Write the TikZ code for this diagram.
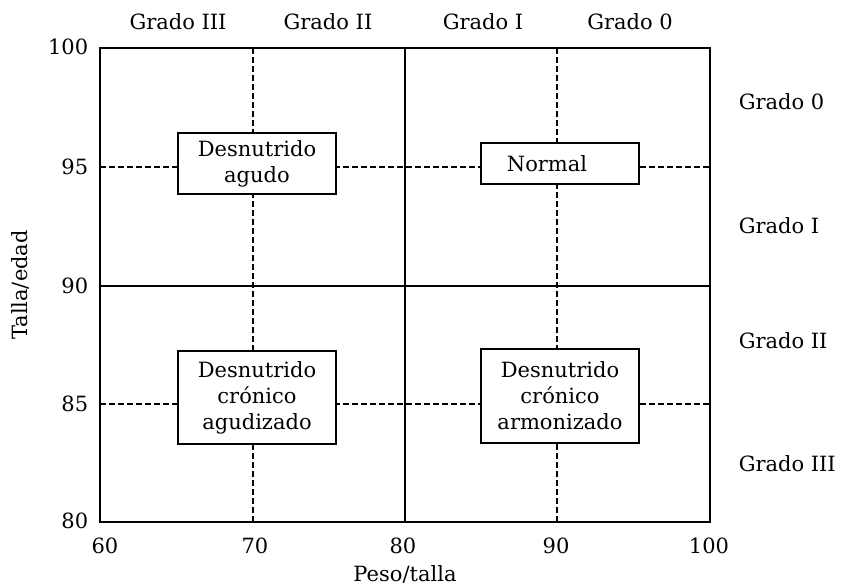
\documentclass[tikz,border=0pt]{standalone}
\usepackage{fontspec}
\setmainfont{DejaVu Serif}
\begin{document}
\begin{tikzpicture}[x=1pt,y=-1pt,
  font=\fontsize{21}{26}\selectfont,
  line width=1.6pt,
  gridline/.style={dash pattern=on 6pt off 3pt, line width=1.4pt},
  box/.style={draw, fill=white, align=center, inner sep=0pt, line width=1.6pt, minimum width=158pt},
  lbl/.style={inner sep=0pt}]
\useasboundingbox (0,0) rectangle (841,586);
% frame and solid dividers
\coordinate (tl) at (100,48);
\coordinate (br) at (710,522);
\draw (tl) rectangle (br);
\coordinate (m80t) at (405,48);
\coordinate (m80b) at (405,522);
\coordinate (m90l) at (100,286);
\coordinate (m90r) at (710,286);
\draw (m80t) -- (m80b);
\draw (m90l) -- (m90r);
% dashed grid
\coordinate (d70t) at (253,48);
\coordinate (d70b) at (253,522);
\coordinate (d90t) at (557,48);
\coordinate (d90b) at (557,522);
\coordinate (d95l) at (100,167);
\coordinate (d95r) at (710,167);
\coordinate (d85l) at (100,404);
\coordinate (d85r) at (710,404);
\draw[gridline] (d70t) -- (d70b);
\draw[gridline] (d90t) -- (d90b);
\draw[gridline] (d95l) -- (d95r);
\draw[gridline] (d85l) -- (d85r);
% boxes
\node[box, minimum height=61pt] (agudo) at (257,163.5) {Desnutrido\\agudo};
\node[box, minimum height=41pt] (normal) at (560,163.5) {\hspace*{-26pt}Normal};
\node[box, minimum height=93pt] (agudizado) at (257,397.5) {Desnutrido\\crónico\\agudizado};
\node[box, minimum height=94pt] (armonizado) at (560,396) {Desnutrido\\crónico\\armonizado};
% top labels
\node[lbl] (t3) at (178,22) {Grado III};
\node[lbl] (t2) at (328,22) {Grado II};
\node[lbl] (t1) at (483,22) {Grado I};
\node[lbl] (t0) at (630,22) {Grado 0};
% right labels
\node[lbl, anchor=west] (r0) at (738,102) {Grado 0};
\node[lbl, anchor=west] (r1) at (738,226) {Grado I};
\node[lbl, anchor=west] (r2) at (738,341) {Grado II};
\node[lbl, anchor=west] (r3) at (738,464) {Grado III};
% y tick labels
\node[lbl, anchor=east] (y100) at (89,47) {100};
\node[lbl, anchor=east] (y95) at (89,167) {95};
\node[lbl, anchor=east] (y90) at (89,286) {90};
\node[lbl, anchor=east] (y85) at (89,404) {85};
\node[lbl, anchor=east] (y80) at (89,521) {80};
% x tick labels
\node[lbl] (x60) at (105,546) {60};
\node[lbl] (x70) at (255,546) {70};
\node[lbl] (x80) at (403,546) {80};
\node[lbl] (x90) at (556,546) {90};
\node[lbl] (x100) at (709,546) {100};
% axis titles
\node[lbl] (xt) at (405,574) {Peso/talla};
\node[lbl, rotate=90] (yt) at (20,285) {Talla/edad};
\end{tikzpicture}
\end{document}
